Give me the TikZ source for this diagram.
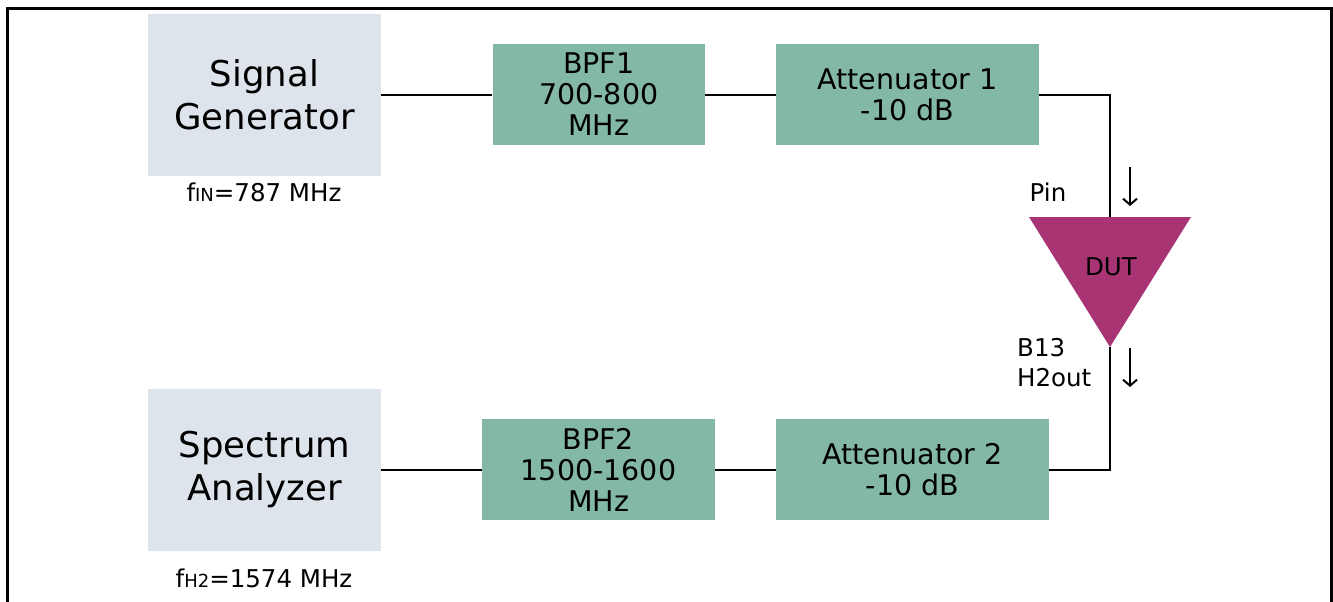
\documentclass[tikz,border=0pt]{standalone}
\usepackage{fontspec}
\setmainfont{DejaVu Sans}
\usetikzlibrary{arrows.meta}
\definecolor{instr}{HTML}{DDE4EB}
\definecolor{filt}{HTML}{84B8A6}
\definecolor{dutc}{HTML}{A83474}
\tikzset{
  instbox/.style={fill=instr, inner sep=0pt, minimum width=233pt, minimum height=162pt, align=center,
    font=\fontsize{35.5}{43}\selectfont},
  filtbox/.style={fill=filt, inner sep=0pt, minimum height=101pt, align=center,
    font=\fontsize{28.5}{31}\selectfont},
  wire/.style={line width=2.5pt, black},
  sig/.style={line width=2pt, -{Straight Barb[length=6pt,width=14pt,line width=2pt]}},
  lbl/.style={inner sep=0pt, font=\fontsize{24.5}{30}\selectfont},
}
\begin{document}
\begin{tikzpicture}[x=1pt,y=-1pt]
\useasboundingbox (0,0) rectangle (1333,602);
% frame
\draw[line width=3pt] (7,602) -- (7,9) -- (1331,9) -- (1331,602);
% nodes
\node[instbox] (sg) at (264.5,95) {Signal\\Generator};
\node[filtbox, minimum width=212.5pt] (bpf1) at (598.75,94.5) {BPF1\\700-800\\MHz};
\node[filtbox, minimum width=263pt] (att1) at (907.5,94.5) {Attenuator 1\\-10 dB};
\node[instbox] (sa) at (264.5,470) {Spectrum\\Analyzer};
\node[filtbox, minimum width=233pt] (bpf2) at (598.5,469.5) {BPF2\\1500-1600\\MHz};
\node[filtbox, minimum width=273pt] (att2) at (912.5,469.5) {Attenuator 2\\-10 dB};
% DUT triangle
\coordinate (dutin) at (1110,217);
\coordinate (dutout) at (1110,347);
\fill[dutc] (1029,217) -- (1191,217) -- (dutout) -- cycle;
\node[lbl] (dut) at (1111,267) {DUT};
% labels
\node[lbl] (fin) at (264,192) {f{\fontsize{18}{20}\selectfont IN}=787 MHz};
\node[lbl] (fh2) at (264,578) {f{\fontsize{18}{20}\selectfont H2}=1574 MHz};
\node[lbl] (pin) at (1048,192) {Pin};
\node[lbl, anchor=west, align=left] (b13) at (1017,363) {B13\\H2out};
% connectors
\draw[wire] (sg.east |- 0,95) -- (bpf1.west |- 0,95);
\draw[wire] (bpf1.east |- 0,95) -- (att1.west |- 0,95);
\draw[wire] (att1.east |- 0,95) -| (dutin);
\draw[wire] (dutout) |- (att2.east |- 0,470);
\draw[wire] (att2.west |- 0,470) -- (bpf2.east |- 0,470);
\draw[wire] (bpf2.west |- 0,470) -- (sa.east |- 0,470);
% signal arrows
\coordinate (a1s) at (1130,167);
\coordinate (a1e) at (1130,206);
\coordinate (a2s) at (1130,348);
\coordinate (a2e) at (1130,387);
\draw[sig] (a1s) -- (a1e);
\draw[sig] (a2s) -- (a2e);
\end{tikzpicture}
\end{document}
